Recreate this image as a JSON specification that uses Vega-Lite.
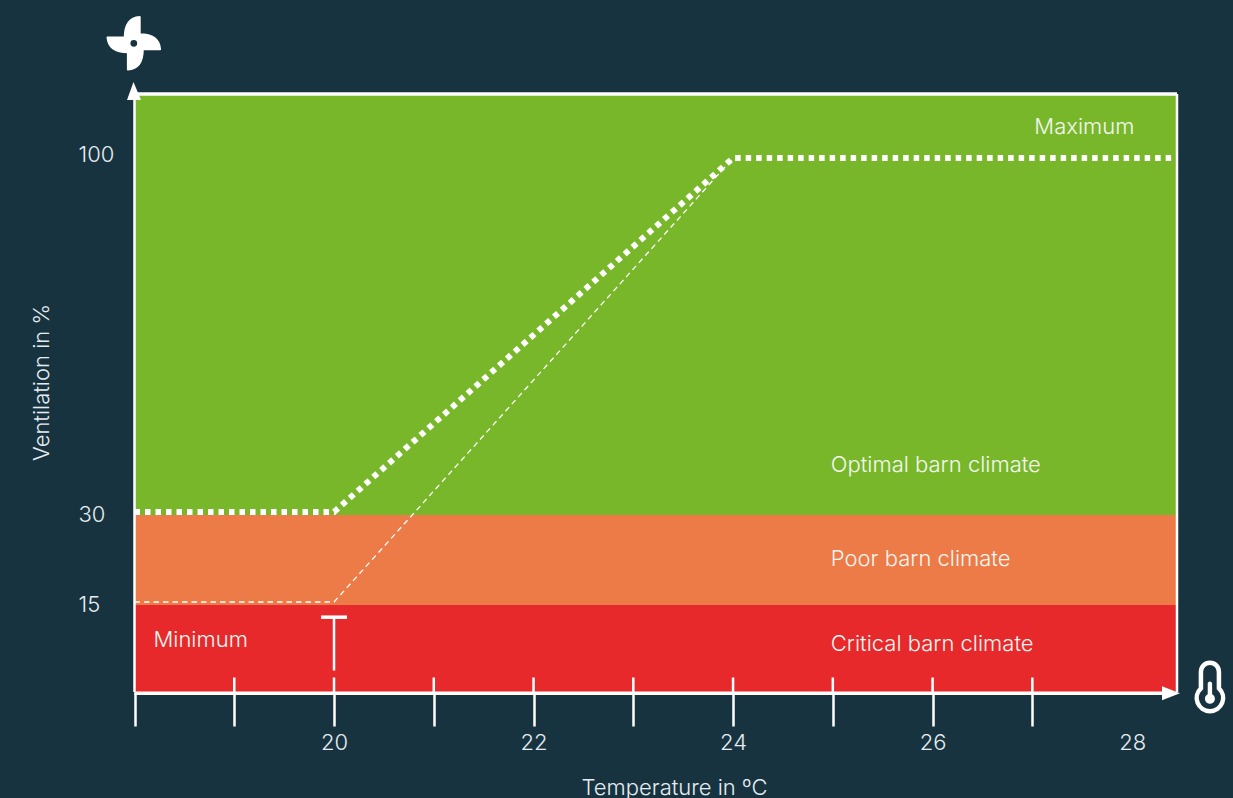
{
"$schema":"https://vega.github.io/schema/vega-lite/v6.json",
"width":1043,"height":598,
"autosize":"none",
"padding":{"left":134,"top":94,"right":56,"bottom":106},
"background":"#183340",
"config":{"view":{"stroke":null},"font":"Inter"},
"datasets":{
"bands":[{"x":18,"x2":28.45,"y":0,"y2":15,"zone":"Critical"},{"x":18,"x2":28.45,"y":15,"y2":30,"zone":"Poor"},{"x":18,"x2":28.45,"y":30,"y2":112.5,"zone":"Optimal"}],
"setpoint":[{"x":18,"y":30.6},{"x":20,"y":30.6},{"x":24,"y":100},{"x":28.45,"y":100}],
"minimum":[{"x":18,"y":15.5},{"x":20,"y":15.5},{"x":24,"y":100}],
"innerTicks":[{"x":19,"y":0,"y2":2.5},{"x":20,"y":0,"y2":2.5},{"x":21,"y":0,"y2":2.5},{"x":22,"y":0,"y2":2.5},{"x":23,"y":0,"y2":2.5},{"x":24,"y":0,"y2":2.5},{"x":25,"y":0,"y2":2.5},{"x":26,"y":0,"y2":2.5},{"x":27,"y":0,"y2":2.5}],
"vBorders":[{"x":18,"y":0,"y2":112.5},{"x":28.45,"y":0,"y2":112.5},{"x":20,"y":3.7,"y2":12.9}],
"hBorders":[{"x":18,"x2":28.45,"y":112.5},{"x":18,"x2":28.3,"y":-0.2},{"x":19.87,"x2":20.13,"y":12.9}],
"labels":[{"x":27.02,"y":106.1,"t":"Maximum"},{"x":24.98,"y":39.8,"t":"Optimal barn climate"},{"x":24.98,"y":22.6,"t":"Poor barn climate"},{"x":24.98,"y":8.2,"t":"Critical barn climate"},{"x":18.19,"y":8.9,"t":"Minimum"}],
"arrowUp":[{"x":18,"y":112.5}],
"arrowRight":[{"x":28.45,"y":-0.2}],
"fan":[{"x":17.993,"y":122.4}],
"thermo":[{"x":28.78,"y":-1}]
},
"encoding":{
"x":{"field":"x","type":"quantitative","scale":{"domain":[18,28.45],"range":[0.5,1043],"nice":false,"zero":false},
"axis":{"title":"Temperature in ºC","values":[18,19,20,21,22,23,24,25,26,27,28],"domain":false,"grid":false,"tickSize":34,"tickWidth":2.5,"tickColor":{"condition":{"test":"datum.value===28","value":"transparent"},"value":"#ffffff"},"labelExpr":"datum.value>=20&&datum.value%2===0?datum.label:''","labelColor":"#e6edf0","labelFontSize":22,"labelFontWeight":300,"labelPadding":6,"labelOverlap":false,"labelFlush":false,"titleColor":"#e6edf0","titleFontSize":22,"titleFontWeight":300,"titleX":540,"titleY":85,"titleAnchor":"middle","titleAlign":"center"}},
"y":{"field":"y","type":"quantitative","scale":{"domain":[0,15,30,100,112.5],"range":[598,511,421,64,0],"nice":false,"zero":false},
"axis":{"title":"Ventilation in %","values":[15,30,100],"domain":false,"grid":false,"ticks":false,"labelAlign":"left","labelPadding":56,"labelOffset":{"condition":{"test":"datum.value===100","value":-4},"value":-1},"labelColor":"#e6edf0","labelFontSize":22,"labelFontWeight":300,"titleColor":"#e6edf0","titleFontSize":22,"titleFontWeight":300,"titleX":-81,"titleY":288,"titleAngle":270,"titleAnchor":"middle","titleAlign":"center"}}
},
"layer":[
{"data":{"name":"bands"},"mark":{"type":"rect"},"encoding":{"x2":{"field":"x2"},"y2":{"field":"y2"},"color":{"field":"zone","type":"nominal","legend":null,"scale":{"domain":["Critical","Poor","Optimal"],"range":["#e8292c","#ed7b48","#78b729"]}}}},
{"data":{"name":"minimum"},"mark":{"type":"line","color":"#ffffff","strokeWidth":1.3,"strokeDash":[5.5,4]}},
{"data":{"name":"setpoint"},"mark":{"type":"line","color":"#ffffff","strokeWidth":6,"strokeDash":[5.5,5],"strokeCap":"butt"}},
{"data":{"name":"innerTicks"},"mark":{"type":"rule","color":"#ffffff","strokeWidth":2.5},"encoding":{"y2":{"field":"y2"}}},
{"data":{"name":"vBorders"},"mark":{"type":"rule","color":"#ffffff","strokeWidth":2.5},"encoding":{"y2":{"field":"y2"}}},
{"data":{"name":"hBorders"},"mark":{"type":"rule","color":"#ffffff","strokeWidth":3.5},"encoding":{"x2":{"field":"x2"}}},
{"data":{"name":"labels"},"mark":{"type":"text","align":"left","baseline":"middle","color":"#f4f7f2","fontSize":22,"fontWeight":300},"encoding":{"text":{"field":"t"}}},
{"data":{"name":"arrowUp"},"mark":{"type":"point","filled":true,"opacity":1,"color":"#ffffff","size":4,"shape":"M-1,-12L6.5,6L-7.5,6Z"}},
{"data":{"name":"arrowRight"},"mark":{"type":"point","filled":true,"opacity":1,"color":"#ffffff","size":4,"shape":"M3,0L-15,-7L-15,7Z"}},
{"data":{"name":"fan"},"mark":{"type":"point","filled":true,"opacity":1,"fill":"#ffffff","stroke":"#ffffff","strokeWidth":2,"strokeJoin":"round","size":4,"shape":"M5.9,-10L5.9,-26.3C-4,-25.5,-9,-18,-9,-5.9L-26.3,-5.9C-25.5,4,-18,9,-5.9,9L-5.9,26.3C4,25.5,9,18,9,5.9L26.3,5.9C25.5,-4,18,-9,5.9,-9ZM4.4,0A4.4,4.4,0,1,1,-4.4,0A4.4,4.4,0,1,1,4.4,0Z"}},
{"data":{"name":"thermo"},"mark":{"type":"point","filled":false,"opacity":1,"color":"#ffffff","strokeWidth":4.5,"size":4,"shape":"M-9,-26A9,9,0,0,1,9,-26L9,-9.5A13.2,13.2,0,1,1,-9,-9.5Z"}},
{"data":{"name":"thermo"},"mark":{"type":"point","filled":true,"opacity":1,"color":"#ffffff","size":4,"shape":"M-2.2,-14A2.2,2.2,0,0,1,2.2,-14L2.2,-3.5A5,5,0,1,1,-2.2,-3.5Z"}}
]
}
